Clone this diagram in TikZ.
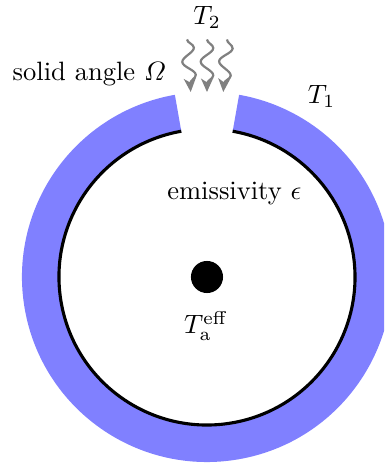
\documentclass[tikz,border=0pt]{standalone}
\usepackage{amsmath,amssymb}
\usepackage{xcolor}
\usetikzlibrary{arrows.meta, positioning}
\usetikzlibrary{decorations.pathmorphing}
\tikzset{
    wiggle/.style={draw=gray,line width=0.85pt,-{Stealth[length=1.8mm,width=1.6mm,inset=0.5mm]},decorate,
        decoration={snake,amplitude=0.85mm,segment length=3.7mm,post length=1mm}},
    every node/.style={scale=1.02},
}
\begin{document}
\begin{tikzpicture}
            \useasboundingbox (-2.797,-2.527) rectangle (2.392,3.743);
            \clip (-2.797,-2.527) rectangle (2.392,3.743);
            % wall with the opening on top
            \fill[blue!50] (100:2) -- (100:2.5) arc (100:440:2.5) -- (440:2) arc (440:100:2) -- cycle;
            \draw[very thick] (100:2) arc (100:440:2);
            \node[circle,fill=black,minimum size=0.425cm,inner sep=0pt](absorber) at (0,0) {};
            \node(Ta) at (-0.01,-0.66) {$T_{\mathrm{a}}^{\mathrm{eff}}$};
            \node(emis) at (0.37,1.125) {emissivity $\epsilon$};
            \node(Tone) at (1.55,2.44) {$T_1$};
            \node(Ttwo) at (0,3.51) {$T_2$};
            \node(omega) at (-1.59,2.74) {solid angle $\varOmega$};
            % incoming radiation
            \foreach \name/\xa/\xb in {l/-0.27/-0.22, m/0/0, r/0.27/0.22} {
                \coordinate (top\name) at (\xa,3.21);
                \coordinate (tip\name) at (\xb,2.50);
                \draw[wiggle] (top\name) -- (tip\name);
            }
        \end{tikzpicture}
\end{document}
